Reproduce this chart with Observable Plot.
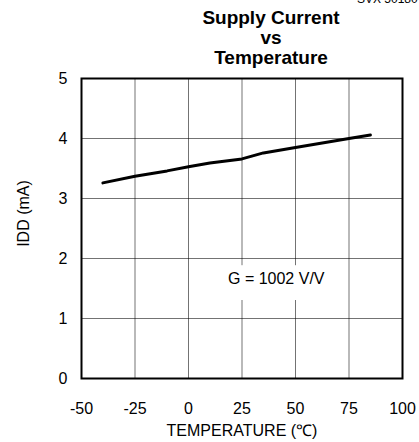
<!DOCTYPE html>
<html>
<head>
<meta charset="utf-8">
<script src="https://cdn.jsdelivr.net/npm/d3@7"></script>
<script src="https://cdn.jsdelivr.net/npm/@observablehq/plot@0.6"></script>
<style>
  html, body { margin: 0; padding: 0; background: #fff; }
  #wrap { position: relative; width: 419px; height: 442px; overflow: hidden; font-family: "Liberation Sans", Arial, sans-serif; }
  #code { position: absolute; top: -8px; left: 357px; font-size: 12px; color: #000; white-space: nowrap; }
  #title { height: 70px; box-sizing: border-box; padding-top: 8px; padding-left: 123px; text-align: center; font-weight: bold; font-size: 19px; line-height: 20px; color: #000; }
</style>
</head>
<body>
<div id="wrap">
  <div id="code">SVX 50180</div>
  <div id="title">Supply Current<br>vs<br>Temperature</div>
  <div id="chart"></div>
</div>
<script>
const temperature = [-40, -25, -10, 0, 10, 25, 35, 50, 75, 85];
const idd = [3.26, 3.37, 3.46, 3.53, 3.59, 3.66, 3.76, 3.85, 4.0, 4.06];
const xTicks = [-50, -25, 0, 25, 50, 75, 100];
const yTicks = [0, 1, 2, 3, 4, 5];
const xGrid = [-25, 0, 25, 50, 75];
const yGrid = [1, 2, 3, 4];
const noteText = ["G = 1002 V/V"];
const noteX = [41];
const noteY = [1.66];
const noteBoxX = [12.6, 71];
const noteBoxY = [1.3, 1.88];
const yLabel = ["IDD (mA)"];

const data = temperature.map((t, i) => ({t, v: idd[i]}));
const notes = noteText.map((s, i) => ({x: noteX[i], y: noteY[i], s}));
const boxes = [{x1: noteBoxX[0], x2: noteBoxX[1], y1: noteBoxY[0], y2: noteBoxY[1]}];

const chart = Plot.plot({
  width: 419,
  height: 372,
  marginTop: 8,
  marginLeft: 81,
  marginRight: 17,
  marginBottom: 64,
  style: {fontFamily: "'Liberation Sans', Arial, sans-serif", fontSize: "16px", color: "#000", background: "#fff"},
  x: {domain: [-50, 100]},
  y: {domain: [0, 5]},
  marks: [
    Plot.gridX(xGrid, {stroke: "#000", strokeOpacity: 0.55, strokeWidth: 1}),
    Plot.gridY(yGrid, {stroke: "#000", strokeOpacity: 0.55, strokeWidth: 1}),
    Plot.rect(boxes, {x1: "x1", x2: "x2", y1: "y1", y2: "y2", fill: "white"}),
    Plot.text(notes, {x: "x", y: "y", text: "s", fontSize: 16, fill: "#000"}),
    Plot.frame({stroke: "#000", strokeWidth: 2}),
    Plot.line(data, {x: "t", y: "v", stroke: "#000", strokeWidth: 3}),
    Plot.axisX({ticks: xTicks, tickSize: 0, tickPadding: 24, tickFormat: d => String(d), label: "TEMPERATURE (℃)", labelAnchor: "center", labelOffset: 57, labelArrow: "none"}),
    Plot.axisY({ticks: yTicks, tickSize: 0, tickPadding: 14, tickFormat: d => String(d), label: null}),
    Plot.text(yLabel, {text: d => d, frameAnchor: "left", textAnchor: "middle", rotate: -90, dx: -58, dy: -15, fontSize: 16, fill: "#000"})
  ]
});
document.getElementById("chart").appendChild(chart);
</script>
</body>
</html>
